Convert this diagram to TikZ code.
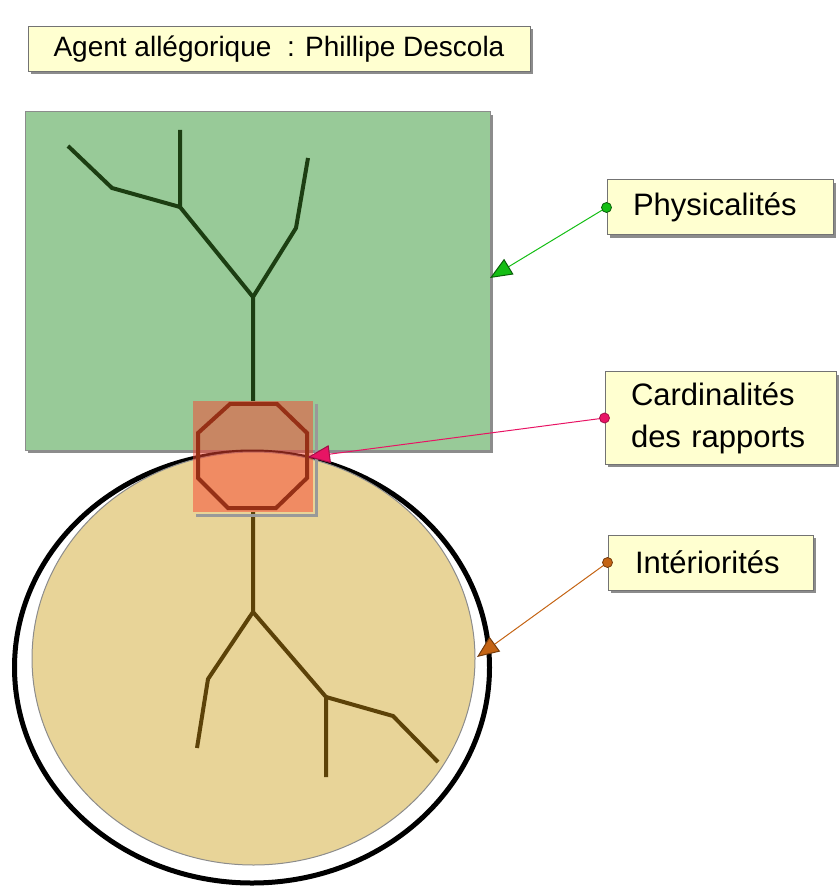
\documentclass[tikz,border=0pt]{standalone}
\usepackage{fontspec}
\setmainfont{Liberation Sans}
\usepackage{xcolor}
\usepackage{tikz}
\usetikzlibrary{arrows.meta,shadows}
\definecolor{Physic}{RGB}{152,202,152}
\definecolor{PhysicDark}{RGB}{28,62,18}
\definecolor{Inner}{RGB}{232,212,152}
\definecolor{InnerDark}{RGB}{92,66,8}
\definecolor{Cardinal}{RGB}{248,68,48}
\definecolor{CardinalDark}{RGB}{150,48,22}
\definecolor{Note}{RGB}{255,255,208}
\definecolor{PhysArrow}{RGB}{20,190,20}
\definecolor{CardArrow}{RGB}{232,20,100}
\definecolor{InnerArrow}{RGB}{196,100,20}

\begin{document}
\begin{tikzpicture}[x=0.5pt, y=-0.5pt,
    note/.style={rectangle, draw=black!55, line width=0.5pt, fill=Note, align=left,
                 font=\fontsize{15.5}{21}\selectfont, inner xsep=0pt, inner ysep=0pt,
                 drop shadow={shadow xshift=1.5pt, shadow yshift=-1.5pt, fill=black!45, opacity=1}},
    zone/.style={draw=black!45, line width=0.5pt},
    tree/.style={line width=2pt, line join=miter},
    link/.style={line width=0.5pt},
    dot/.style={circle, inner sep=0pt, minimum size=5pt, line width=0.4pt},
]
\useasboundingbox (0,0) rectangle (838,886);

\path[zone, fill=Physic, drop shadow={shadow xshift=1.5pt, shadow yshift=-1.5pt, fill=black!45, opacity=1}]
      (25,112) rectangle (490,450);
\draw[tree, PhysicDark] (253,401) -- (253,297) -- (296,228) -- (308,158);
\draw[tree, PhysicDark] (253,297) -- (180,207) -- (180,130);
\draw[tree, PhysicDark] (180,207) -- (112,188) -- (68,146);

\draw[line width=2.5pt] (252,667.5) ellipse [x radius=237.5, y radius=215.5];
\path[zone, fill=Inner] (253.5,658.5) ellipse [x radius=221.5, y radius=206.5];
\draw[tree, InnerDark] (253,512) -- (253,612) -- (208,679) -- (197,748);
\draw[tree, InnerDark] (253,612) -- (326,697) -- (326,777);
\draw[tree, InnerDark] (326,697) -- (393,716) -- (438,762);

\draw[black!40, line width=1.5pt] (316,404) -- (316,515) -- (196,515);
\path[fill=Cardinal, fill opacity=0.5] (193,401) rectangle (313,512);
\draw[line width=2pt, CardinalDark] (230,404) -- (277,404) -- (307,433) -- (307,478)
      -- (276,508) -- (228,508) -- (198,478) -- (198,433) -- cycle;

\node[note, align=center, font=\fontsize{14}{17}\selectfont, minimum width=251pt, minimum height=22.5pt]
      (title) at (279,49) {Agent allégorique~~: Phillipe Descola};
\node[note, text width=87pt, minimum width=113pt, minimum height=27.5pt, inner xsep=13pt]
      (physical) at (720,207.5) {Physicalités};
\node[note, text width=89.5pt, minimum width=115.5pt, minimum height=46pt, inner xsep=13pt]
      (cardinal) at (720.5,418) {Cardinalités\\des rapports};
\node[note, text width=75.5pt, minimum width=102.5pt, minimum height=27.5pt, inner xsep=13.5pt]
      (inner) at (710.5,562.5) {Intériorités};

\coordinate (physTip) at (490,278);
\coordinate (cardTip) at (308,457);
\coordinate (innerTip) at (477,657);

\draw[link, PhysArrow, -{Triangle[length=11pt, width=9pt, fill=PhysArrow, color=PhysArrow!50!black]}]
      (physical.west) -- (physTip);
\draw[link, CardArrow, -{Triangle[length=11pt, width=9pt, fill=CardArrow, color=CardArrow!70!black]}]
      (cardinal.west) -- (cardTip);
\draw[link, InnerArrow, -{Triangle[length=11pt, width=9pt, fill=InnerArrow, color=InnerArrow!60!black]}]
      (inner.west) -- (innerTip);

\node[dot, fill=PhysArrow, draw=PhysArrow!50!black] (physDot) at (physical.west) {};
\node[dot, fill=CardArrow, draw=CardArrow!70!black] (cardDot) at (cardinal.west) {};
\node[dot, fill=InnerArrow, draw=InnerArrow!60!black] (innerDot) at (inner.west) {};
\end{tikzpicture}
\end{document}
